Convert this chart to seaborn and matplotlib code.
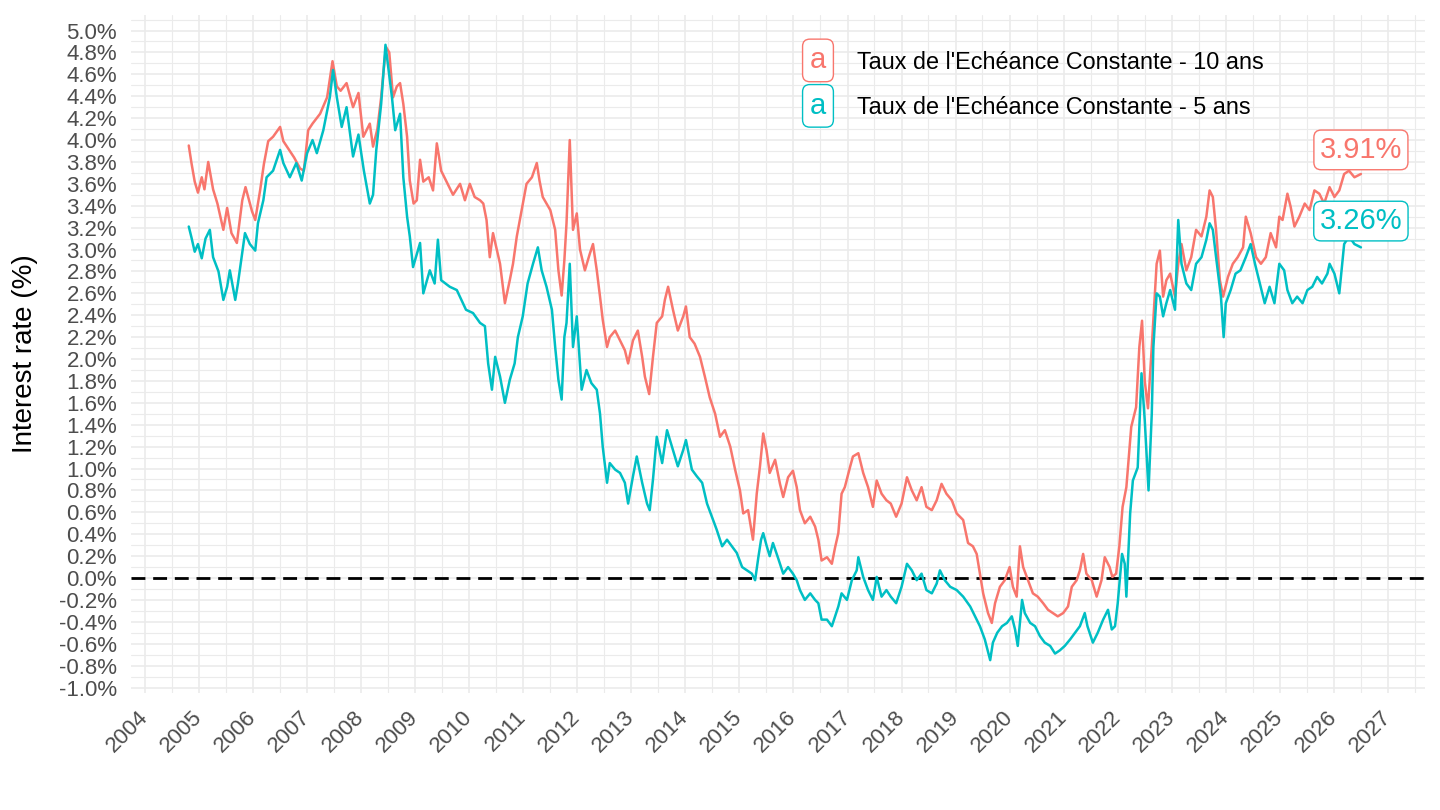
"""
plot.py
-------
French constant-maturity government bond yields (TEC 10 ans / TEC 5 ans).
Saves the chart to out.png.
"""

import matplotlib

matplotlib.use("Agg")  # render to file, no display needed
import matplotlib.dates as mdates
import matplotlib.pyplot as plt
import matplotlib.ticker as mticker
import numpy as np
import pandas as pd
import seaborn as sns

OUT_PATH = "out.png"

RED = "#F8766D"
TEAL = "#00BFC4"
GRID = "#EBEBEB"

SERIES_10Y = "Taux de l'Echéance Constante - 10 ans"
SERIES_5Y = "Taux de l'Echéance Constante - 5 ans"

T10_YEAR = [
    2004.81, 2004.86, 2004.92, 2004.98, 2005.05, 2005.10, 2005.17, 2005.26, 2005.34, 2005.45,
    2005.52, 2005.60, 2005.70, 2005.80, 2005.86, 2005.98, 2006.04, 2006.13, 2006.20, 2006.28,
    2006.37, 2006.50, 2006.56, 2006.68, 2006.76, 2006.87, 2006.94, 2007.02, 2007.10, 2007.24,
    2007.37, 2007.47, 2007.55, 2007.62, 2007.73, 2007.85, 2007.95, 2008.04, 2008.16, 2008.22,
    2008.30, 2008.37, 2008.41, 2008.46, 2008.52, 2008.59, 2008.66, 2008.72, 2008.78, 2008.85,
    2008.90, 2008.97, 2009.03, 2009.09, 2009.15, 2009.25, 2009.33, 2009.40, 2009.44, 2009.48,
    2009.58, 2009.70, 2009.83, 2009.92, 2010.01, 2010.10, 2010.20, 2010.26, 2010.32, 2010.38,
    2010.44, 2010.57, 2010.66, 2010.75, 2010.81, 2010.88, 2010.97, 2011.06, 2011.16, 2011.25,
    2011.30, 2011.36, 2011.50, 2011.59, 2011.65, 2011.71, 2011.76, 2011.80, 2011.86, 2011.92,
    2011.99, 2012.05, 2012.14, 2012.23, 2012.29, 2012.36, 2012.42, 2012.47, 2012.55, 2012.60,
    2012.70, 2012.79, 2012.88, 2012.94, 2013.03, 2013.12, 2013.20, 2013.25, 2013.33, 2013.40,
    2013.47, 2013.57, 2013.62, 2013.68, 2013.77, 2013.86, 2013.96, 2014.01, 2014.08, 2014.17,
    2014.27, 2014.36, 2014.45, 2014.55, 2014.64, 2014.73, 2014.83, 2014.92, 2015.01, 2015.07,
    2015.16, 2015.25, 2015.32, 2015.38, 2015.44, 2015.50, 2015.56, 2015.66, 2015.75, 2015.81,
    2015.90, 2015.99, 2016.06, 2016.12, 2016.21, 2016.31, 2016.40, 2016.46, 2016.52, 2016.62,
    2016.71, 2016.77, 2016.83, 2016.89, 2016.95, 2017.05, 2017.10, 2017.20, 2017.29, 2017.38,
    2017.47, 2017.54, 2017.63, 2017.72, 2017.80, 2017.90, 2018.00, 2018.10, 2018.19, 2018.28,
    2018.37, 2018.46, 2018.56, 2018.65, 2018.74, 2018.83, 2018.93, 2019.02, 2019.14, 2019.23,
    2019.32, 2019.39, 2019.45, 2019.51, 2019.60, 2019.67, 2019.73, 2019.82, 2019.91, 2020.00,
    2020.06, 2020.13, 2020.19, 2020.25, 2020.34, 2020.43, 2020.52, 2020.62, 2020.71, 2020.80,
    2020.89, 2020.99, 2021.08, 2021.15, 2021.24, 2021.30, 2021.36, 2021.42, 2021.52, 2021.61,
    2021.70, 2021.76, 2021.85, 2021.90, 2021.97, 2022.03, 2022.09, 2022.16, 2022.25, 2022.34,
    2022.40, 2022.45, 2022.50, 2022.56, 2022.63, 2022.72, 2022.78, 2022.84, 2022.90, 2022.97,
    2023.06, 2023.12, 2023.18, 2023.27, 2023.36, 2023.45, 2023.55, 2023.64, 2023.70, 2023.76,
    2023.82, 2023.89, 2023.95, 2024.04, 2024.13, 2024.22, 2024.32, 2024.37, 2024.46, 2024.56,
    2024.65, 2024.74, 2024.83, 2024.93, 2024.99, 2025.05, 2025.14, 2025.20, 2025.27, 2025.36,
    2025.46, 2025.55, 2025.64, 2025.73, 2025.82, 2025.92, 2026.01, 2026.10, 2026.19, 2026.28,
    2026.38, 2026.50,
]
T10_RATE = [
    3.95, 3.79, 3.62, 3.52, 3.66, 3.55, 3.80, 3.55, 3.42, 3.18,
    3.38, 3.15, 3.06, 3.45, 3.57, 3.35, 3.27, 3.54, 3.78, 3.99,
    4.03, 4.12, 3.99, 3.90, 3.84, 3.74, 3.72, 4.09, 4.15, 4.24,
    4.39, 4.72, 4.49, 4.45, 4.52, 4.30, 4.43, 4.03, 4.15, 3.94,
    4.10, 4.39, 4.61, 4.85, 4.80, 4.39, 4.49, 4.52, 4.33, 4.03,
    3.63, 3.42, 3.45, 3.82, 3.62, 3.66, 3.54, 3.97, 3.85, 3.72,
    3.62, 3.50, 3.60, 3.45, 3.60, 3.48, 3.45, 3.42, 3.27, 2.93,
    3.15, 2.87, 2.51, 2.72, 2.87, 3.12, 3.36, 3.60, 3.66, 3.79,
    3.63, 3.48, 3.36, 3.18, 2.81, 2.58, 2.90, 3.24, 4.00, 3.18,
    3.33, 3.00, 2.81, 2.96, 3.05, 2.81, 2.57, 2.36, 2.11, 2.20,
    2.26, 2.17, 2.08, 1.96, 2.17, 2.26, 2.02, 1.84, 1.68, 2.02,
    2.33, 2.39, 2.54, 2.66, 2.45, 2.26, 2.39, 2.48, 2.20, 2.14,
    2.02, 1.84, 1.65, 1.50, 1.29, 1.35, 1.20, 0.99, 0.80, 0.59,
    0.62, 0.35, 0.77, 1.02, 1.32, 1.17, 0.96, 1.08, 0.86, 0.74,
    0.92, 0.98, 0.83, 0.62, 0.50, 0.56, 0.47, 0.35, 0.16, 0.19,
    0.13, 0.28, 0.41, 0.77, 0.83, 1.02, 1.11, 1.14, 0.96, 0.83,
    0.65, 0.89, 0.77, 0.71, 0.68, 0.56, 0.68, 0.92, 0.80, 0.71,
    0.83, 0.65, 0.62, 0.71, 0.86, 0.77, 0.71, 0.59, 0.53, 0.32,
    0.29, 0.22, 0.04, -0.14, -0.32, -0.41, -0.23, -0.08, -0.02, 0.10,
    -0.08, -0.17, 0.29, 0.10, -0.02, -0.14, -0.17, -0.23, -0.29, -0.32,
    -0.35, -0.32, -0.26, -0.08, -0.02, 0.07, 0.22, 0.04, -0.02, -0.17,
    -0.02, 0.19, 0.10, 0.01, 0.04, 0.29, 0.65, 0.83, 1.38, 1.56,
    2.11, 2.35, 1.80, 1.55, 2.11, 2.87, 2.99, 2.57, 2.72, 2.78,
    2.57, 2.87, 3.05, 2.81, 2.93, 3.18, 3.12, 3.30, 3.54, 3.48,
    3.18, 2.72, 2.57, 2.75, 2.87, 2.93, 3.02, 3.30, 3.15, 2.93,
    2.87, 2.93, 3.15, 3.02, 3.30, 3.27, 3.51, 3.39, 3.21, 3.30,
    3.42, 3.36, 3.54, 3.51, 3.42, 3.57, 3.48, 3.54, 3.69, 3.72,
    3.66, 3.69,
]

T5_YEAR = [
    2004.81, 2004.86, 2004.92, 2004.98, 2005.05, 2005.12, 2005.20, 2005.26, 2005.36, 2005.45,
    2005.52, 2005.57, 2005.67, 2005.72, 2005.85, 2005.94, 2006.04, 2006.09, 2006.19, 2006.25,
    2006.37, 2006.50, 2006.56, 2006.68, 2006.80, 2006.90, 2007.00, 2007.10, 2007.18, 2007.30,
    2007.42, 2007.48, 2007.55, 2007.64, 2007.73, 2007.85, 2007.95, 2008.05, 2008.16, 2008.22,
    2008.28, 2008.37, 2008.45, 2008.57, 2008.63, 2008.72, 2008.78, 2008.85, 2008.90, 2008.96,
    2009.09, 2009.15, 2009.27, 2009.36, 2009.42, 2009.48, 2009.64, 2009.77, 2009.94, 2010.07,
    2010.20, 2010.29, 2010.35, 2010.42, 2010.48, 2010.57, 2010.66, 2010.75, 2010.84, 2010.90,
    2010.99, 2011.08, 2011.18, 2011.27, 2011.34, 2011.43, 2011.53, 2011.59, 2011.65, 2011.71,
    2011.76, 2011.80, 2011.86, 2011.92, 2011.99, 2012.08, 2012.17, 2012.26, 2012.36, 2012.42,
    2012.47, 2012.55, 2012.60, 2012.70, 2012.79, 2012.88, 2012.94, 2013.03, 2013.10, 2013.20,
    2013.29, 2013.34, 2013.40, 2013.47, 2013.57, 2013.66, 2013.77, 2013.86, 2013.96, 2014.01,
    2014.12, 2014.21, 2014.31, 2014.40, 2014.49, 2014.58, 2014.68, 2014.77, 2014.86, 2014.95,
    2015.05, 2015.14, 2015.23, 2015.29, 2015.35, 2015.40, 2015.44, 2015.50, 2015.56, 2015.62,
    2015.71, 2015.81, 2015.90, 2015.99, 2016.06, 2016.12, 2016.21, 2016.31, 2016.40, 2016.46,
    2016.52, 2016.62, 2016.71, 2016.77, 2016.83, 2016.89, 2016.99, 2017.08, 2017.17, 2017.20,
    2017.29, 2017.38, 2017.47, 2017.54, 2017.63, 2017.72, 2017.80, 2017.90, 2018.00, 2018.10,
    2018.19, 2018.28, 2018.37, 2018.46, 2018.56, 2018.65, 2018.71, 2018.80, 2018.90, 2019.02,
    2019.14, 2019.27, 2019.36, 2019.45, 2019.54, 2019.64, 2019.69, 2019.77, 2019.86, 2019.95,
    2020.04, 2020.10, 2020.15, 2020.23, 2020.28, 2020.38, 2020.47, 2020.56, 2020.65, 2020.75,
    2020.84, 2020.93, 2021.02, 2021.12, 2021.21, 2021.30, 2021.39, 2021.44, 2021.54, 2021.63,
    2021.73, 2021.82, 2021.89, 2021.95, 2022.00, 2022.08, 2022.13, 2022.16, 2022.23, 2022.28,
    2022.37, 2022.44, 2022.50, 2022.57, 2022.63, 2022.66, 2022.72, 2022.78, 2022.84, 2022.90,
    2022.97, 2023.06, 2023.12, 2023.18, 2023.27, 2023.36, 2023.45, 2023.55, 2023.64, 2023.70,
    2023.76, 2023.82, 2023.91, 2023.96, 2024.00, 2024.09, 2024.18, 2024.27, 2024.37, 2024.46,
    2024.54, 2024.63, 2024.72, 2024.81, 2024.90, 2024.99, 2025.08, 2025.14, 2025.23, 2025.32,
    2025.42, 2025.51, 2025.60, 2025.69, 2025.78, 2025.88, 2025.92, 2026.01, 2026.10, 2026.19,
    2026.28, 2026.38, 2026.50,
]
T5_RATE = [
    3.21, 3.11, 2.98, 3.05, 2.92, 3.10, 3.18, 2.93, 2.80, 2.54,
    2.66, 2.81, 2.54, 2.69, 3.15, 3.05, 2.99, 3.24, 3.45, 3.66,
    3.72, 3.91, 3.79, 3.66, 3.79, 3.63, 3.88, 4.00, 3.88, 4.09,
    4.39, 4.64, 4.39, 4.12, 4.30, 3.85, 4.05, 3.72, 3.42, 3.50,
    3.91, 4.33, 4.87, 4.39, 4.09, 4.24, 3.66, 3.30, 3.12, 2.84,
    3.06, 2.60, 2.81, 2.69, 3.09, 2.72, 2.66, 2.63, 2.45, 2.42,
    2.33, 2.30, 1.96, 1.72, 2.02, 1.84, 1.60, 1.81, 1.96, 2.20,
    2.39, 2.69, 2.87, 3.02, 2.81, 2.66, 2.45, 2.11, 1.81, 1.63,
    2.20, 2.33, 2.87, 2.11, 2.39, 1.72, 1.90, 1.78, 1.72, 1.50,
    1.20, 0.87, 1.05, 0.99, 0.96, 0.87, 0.68, 0.93, 1.11, 0.87,
    0.68, 0.62, 0.90, 1.29, 1.05, 1.35, 1.17, 1.02, 1.17, 1.26,
    0.99, 0.93, 0.87, 0.68, 0.56, 0.44, 0.29, 0.35, 0.29, 0.23,
    0.10, 0.07, 0.04, -0.02, 0.19, 0.35, 0.41, 0.30, 0.20, 0.32,
    0.19, 0.04, 0.10, 0.04, -0.02, -0.11, -0.20, -0.14, -0.20, -0.23,
    -0.38, -0.38, -0.44, -0.35, -0.26, -0.14, -0.20, -0.02, 0.07, 0.19,
    0.01, -0.11, -0.20, 0.01, -0.17, -0.11, -0.17, -0.23, -0.08, 0.13,
    0.07, -0.02, 0.04, -0.11, -0.14, -0.05, 0.07, -0.02, -0.08, -0.11,
    -0.17, -0.26, -0.35, -0.44, -0.56, -0.75, -0.59, -0.50, -0.44, -0.41,
    -0.35, -0.47, -0.62, -0.20, -0.32, -0.41, -0.44, -0.53, -0.59, -0.62,
    -0.69, -0.66, -0.62, -0.56, -0.50, -0.44, -0.32, -0.44, -0.59, -0.50,
    -0.38, -0.29, -0.47, -0.44, -0.23, 0.22, 0.13, -0.17, 0.59, 0.89,
    1.01, 1.87, 1.44, 0.80, 1.50, 2.11, 2.60, 2.57, 2.39, 2.51,
    2.63, 2.45, 3.27, 2.87, 2.69, 2.63, 2.87, 2.93, 3.09, 3.24,
    3.18, 2.93, 2.57, 2.20, 2.51, 2.63, 2.78, 2.81, 2.93, 3.05,
    2.87, 2.69, 2.51, 2.66, 2.51, 2.87, 2.81, 2.63, 2.51, 2.57,
    2.51, 2.63, 2.66, 2.75, 2.69, 2.78, 2.87, 2.78, 2.60, 3.05,
    3.12, 3.05, 3.02,
]

# last published values shown in the end labels
LAST_LABELS = ["3.91%", "3.26%"]
LAST_VALUES = [3.91, 3.26]

Y_TICKS = np.round(np.arange(-1.0, 5.01, 0.2), 1)


def to_dates(years):
    years = np.asarray(years, dtype=float)
    start = pd.Timestamp("2004-01-01")
    return start + pd.to_timedelta((years - 2004.0) * 365.2425, unit="D")


def pct_label(v: float) -> str:
    v = round(float(v), 1) + 0.0  # drop the sign of -0.0
    return f"{v:.1f}%"


def build_frame() -> pd.DataFrame:
    df10 = pd.DataFrame({"date": to_dates(T10_YEAR), "rate": T10_RATE, "series": SERIES_10Y})
    df5 = pd.DataFrame({"date": to_dates(T5_YEAR), "rate": T5_RATE, "series": SERIES_5Y})
    return pd.concat([df10, df5], ignore_index=True)


def plot_rates(df: pd.DataFrame, out_path: str = OUT_PATH) -> None:
    sns.set_theme(style="white")
    plt.rcParams["font.family"] = ["Liberation Sans", "DejaVu Sans"]

    fig = plt.figure(figsize=(14.4, 8.1), dpi=100)
    ax = fig.add_axes([131 / 1440, 1 - 693 / 810, (1425 - 131) / 1440, (693 - 15) / 810])

    # grid first so lines sit on top
    ax.set_axisbelow(True)
    ax.grid(which="major", color=GRID, linewidth=1.2)
    ax.grid(which="minor", color=GRID, linewidth=0.8)
    for side in ax.spines.values():
        side.set_visible(False)

    ax.axhline(0, color="black", linewidth=2.0, linestyle=(0, (5.0, 2.8)), zorder=2)

    sns.lineplot(
        data=df, x="date", y="rate", hue="series",
        palette={SERIES_10Y: RED, SERIES_5Y: TEAL},
        hue_order=[SERIES_10Y, SERIES_5Y],
        estimator=None, linewidth=1.8, legend=False, ax=ax, zorder=3,
    )

    # end-of-series value labels
    last_date = df["date"].max()
    for txt, val, col in zip(LAST_LABELS, LAST_VALUES, [RED, TEAL]):
        ax.text(last_date, val, txt, color=col, fontsize=21, ha="center", va="center", zorder=5,
                bbox=dict(boxstyle="round,pad=0.2,rounding_size=0.25", fc="white", ec=col, lw=1.0))

    # legend drawn as label keys, like the original
    legend_rows = [(SERIES_10Y, RED, 0.933), (SERIES_5Y, TEAL, 0.866)]
    for name, col, fy in legend_rows:
        ax.text(0.5309, fy, "a", transform=ax.transAxes, color=col, fontsize=21, ha="center",
                va="center", zorder=6,
                bbox=dict(boxstyle="round,pad=0.25,rounding_size=0.25", fc="white", ec=col, lw=1.0))
        ax.text(0.5611, fy - 0.003, name, transform=ax.transAxes, color="black", fontsize=16.8,
                ha="left", va="center", zorder=6)

    # axes
    ax.set_xlim(to_dates([2003.741, 2027.686]))
    ax.set_ylim(-1.05, 5.142)
    ax.xaxis.set_major_locator(mdates.YearLocator(1))
    ax.xaxis.set_minor_locator(mdates.MonthLocator(bymonth=7))
    ax.xaxis.set_major_formatter(mdates.DateFormatter("%Y"))
    ax.set_yticks(Y_TICKS)
    ax.set_yticklabels([pct_label(v) for v in Y_TICKS])
    ax.yaxis.set_minor_locator(mticker.MultipleLocator(0.1))

    ax.tick_params(axis="both", which="both", length=0, colors="#4D4D4D", labelsize=16)
    ax.tick_params(axis="y", pad=10)
    ax.tick_params(axis="x", pad=15)
    for lab in ax.get_xticklabels():
        lab.set_rotation(45)
        lab.set_ha("right")
        lab.set_va("center")
        lab.set_rotation_mode("anchor")

    ax.set_xlabel("")
    ax.set_ylabel("Interest rate (%)", fontsize=20, color="black")
    ax.yaxis.set_label_coords(-0.0719, 0.5)

    fig.savefig(out_path, dpi=100)
    plt.close(fig)


if __name__ == "__main__":
    plot_rates(build_frame())
